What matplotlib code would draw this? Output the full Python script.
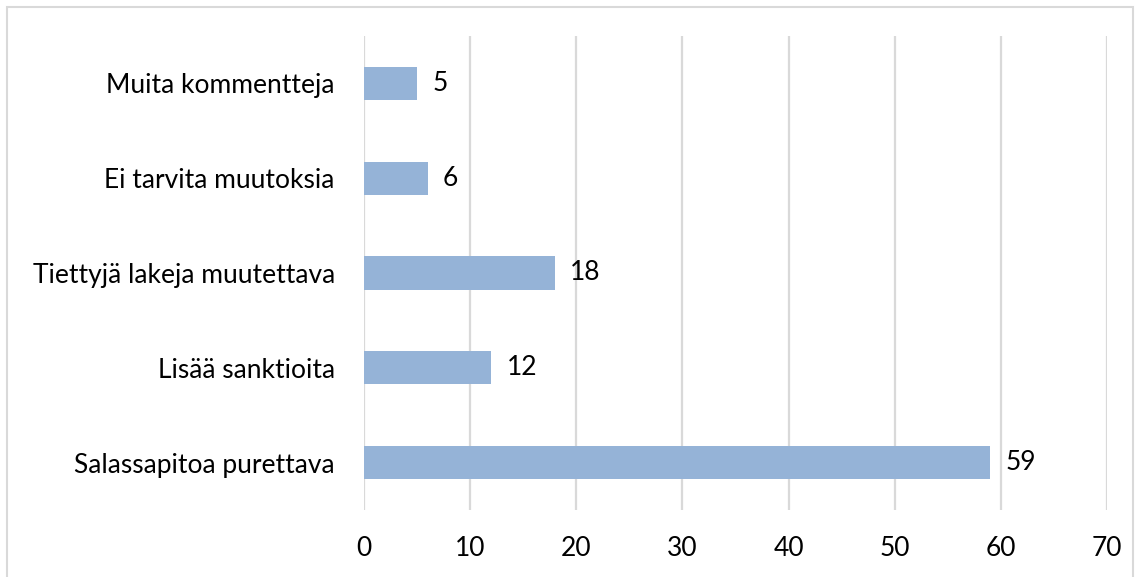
import matplotlib.pyplot as plt
from matplotlib.patches import Rectangle

categories = ['Salassapitoa purettava', 'Lisää sanktioita', 'Tiettyjä lakeja muutettava',
              'Ei tarvita muutoksia', 'Muita kommentteja']
values = [59, 12, 18, 6, 5]
xticks = [0, 10, 20, 30, 40, 50, 60, 70]

plt.rcParams['font.family'] = ['Lato', 'DejaVu Sans']
fs = 19

W, H = 1141, 577
fig = plt.figure(figsize=(W / 100, H / 100), dpi=100)
ax = fig.add_axes([364 / W, 1 - 510 / H, (1107 - 364) / W, (510 - 36) / H])

ypos = range(len(categories))
ax.barh(ypos, values, height=0.35, color='#95B3D7', zorder=3)
for y, v in zip(ypos, values):
    ax.annotate(str(v), (v, y), xytext=(11, 0), textcoords='offset points',
                va='center', ha='left', fontsize=fs, color='black')

ax.set_xlim(0, 70)
ax.set_ylim(-0.5, len(categories) - 0.5)
ax.set_xticks(xticks)
ax.set_yticks(list(ypos))
ax.set_yticklabels(categories)
ax.tick_params(axis='both', length=0, labelsize=fs, colors='black')
ax.tick_params(axis='x', pad=19)
ax.tick_params(axis='y', pad=21)
ax.grid(axis='x', color='#D9D9D9', linewidth=1.6, zorder=0)
for s in ax.spines.values():
    s.set_visible(False)

# outer chart border
fig.patches.append(Rectangle((7 / W, -0.01), (1133 - 7) / W, 1 - 7 / H + 0.01,
                             transform=fig.transFigure, fill=False,
                             edgecolor='#D9D9D9', linewidth=1.5))

fig.savefig('out.png', dpi=100)
